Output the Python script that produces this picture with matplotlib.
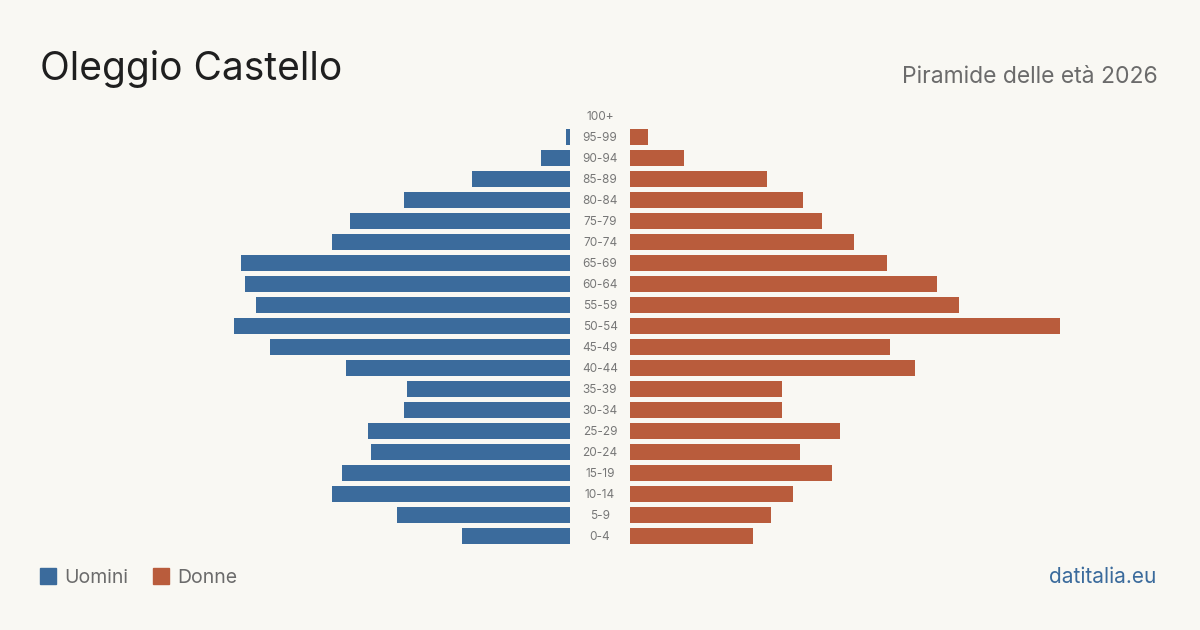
import matplotlib.pyplot as plt

plt.rcParams['font.family'] = ['Inter', 'DejaVu Sans']

ages = ['0-4', '5-9', '10-14', '15-19', '20-24', '25-29', '30-34', '35-39',
        '40-44', '45-49', '50-54', '55-59', '60-64', '65-69', '70-74',
        '75-79', '80-84', '85-89', '90-94', '95-99', '100+']
uomini = [108, 173, 238, 228, 199, 202, 166, 163, 224, 300, 336,
          314, 325, 329, 238, 220, 166, 98, 29, 4, 0]
donne = [123, 141, 163, 202, 170, 210, 152, 152, 285, 260, 430,
         329, 307, 257, 224, 192, 173, 137, 54, 18, 0]

c_men = '#3b6b9c'
c_women = '#b95c3c'
bg = '#f9f8f3'
gap = 30

fig = plt.figure(figsize=(12, 6.3), dpi=100, facecolor=bg)
ax = fig.add_axes([0, 83.5 / 630, 1, 441 / 630])
ax.set_facecolor('none')

y = range(len(ages))
ax.barh(y, [-v for v in uomini], left=-gap, height=0.8, color=c_men)
ax.barh(y, donne, left=gap, height=0.8, color=c_women)
for i, a in enumerate(ages):
    ax.text(0, i - 0.21, a, ha='center', va='baseline', fontsize=8.5, color='#777777')

ax.set_xlim(-600, 600)
ax.set_ylim(-0.5, len(ages) - 0.5)
ax.axis('off')

fig.text(40 / 1200, 1 - 80 / 630, 'Oleggio Castello', fontsize=28,
         color='#1f1f1f', ha='left', va='baseline')
fig.text(1158 / 1200, 1 - 83 / 630, 'Piramide delle età 2026', fontsize=16.5,
         color='#6b6b6b', ha='right', va='baseline')

# legend
fig.patches.append(plt.Rectangle((40 / 1200, 1 - 584 / 630), 16 / 1200, 16 / 630,
                                 transform=fig.transFigure, color=c_men))
fig.text(64 / 1200, 1 - 583 / 630, 'Uomini', fontsize=14, color='#6b6b6b',
         ha='left', va='baseline')
fig.patches.append(plt.Rectangle((153 / 1200, 1 - 584 / 630), 16 / 1200, 16 / 630,
                                 transform=fig.transFigure, color=c_women))
fig.text(177 / 1200, 1 - 583 / 630, 'Donne', fontsize=14, color='#6b6b6b',
         ha='left', va='baseline')
fig.text(1156 / 1200, 1 - 583 / 630, 'datitalia.eu', fontsize=15, color=c_men,
         ha='right', va='baseline')

fig.savefig('out.png', dpi=100, facecolor=bg)
